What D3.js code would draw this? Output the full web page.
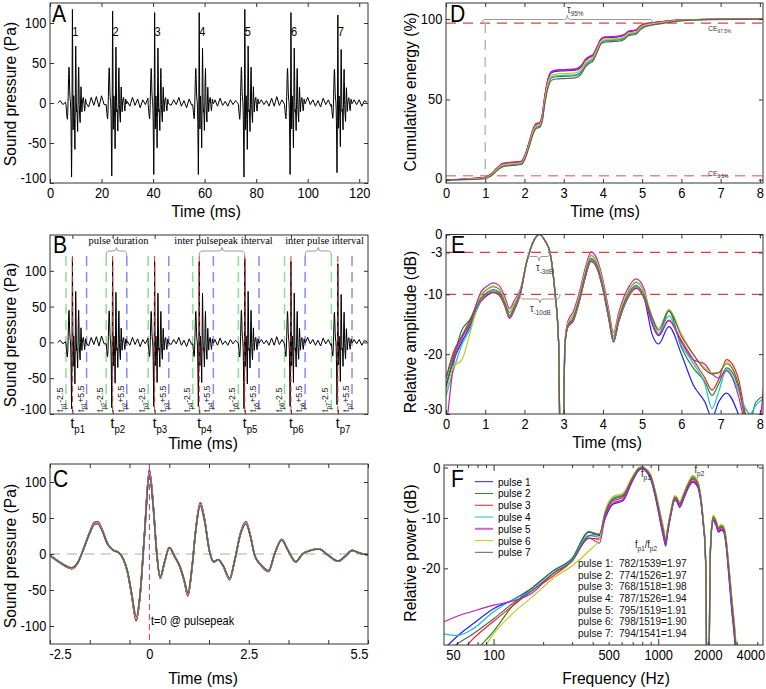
<!DOCTYPE html>
<html><head><meta charset="utf-8">
<script src="https://cdn.jsdelivr.net/npm/d3@7"></script>
<style>body{margin:0;background:#fff}svg{display:block}text{white-space:pre}</style>
</head><body><svg id="c" width="766" height="689"></svg>
<script>
// ---------------- DATA ----------------
const pulseLabels = ["pulse 1","pulse 2","pulse 3","pulse 4","pulse 5","pulse 6","pulse 7"];
const pulseColors = ["#2020ff","#228b22","#ee2020","#20c0c0","#c020c0","#c8c820","#606060"];
const peakTimes = [8.7, 24.3, 40.6, 57.9, 75.6, 93.5, 111.7];
const peakAmp = [117, 115, 113, 113, 117, 113, 110];
const peakLabels = ["1","2","3","4","5","6","7"];
// averaged pulse waveform (panel C), time rel. to pulse peak (ms) / pressure (Pa)
const waveT = [-2.5,-2.3,-2.1,-1.95,-1.8,-1.65,-1.5,-1.38,-1.3,-1.2,-1.05,-0.9,-0.77,-0.65,-0.55,-0.45,-0.33,-0.23,-0.12,0,0.1,0.18,0.27,0.38,0.5,0.64,0.77,0.88,0.97,1.07,1.17,1.28,1.38,1.52,1.62,1.73,1.85,2.02,2.15,2.3,2.43,2.53,2.65,2.8,3.0,3.15,3.33,3.48,3.68,3.85,4.05,4.27,4.5,4.75,4.93,5.1,5.3,5.5];
const waveP = [-2,-10,-17,-20,-12,8,30,43,44,35,14,5,2,-8,-25,-55,-91,-55,30,115,65,5,-33,-12,9,-4,-18,-38,-57,-20,35,70,50,2,-11,-8,-16,-35,-8,30,44,28,-2,-15,-24,0,20,6,-11,0,5,7,-2,-10,-3,5,1,-1];
// background noise between pulses (1 ms steps from t = 3 ms)
const noiseT0 = 3;
const noise = [0,3,-2,1,-4,2,-1,5,-3,2,-4,3,
 -5,7,-3,8,-5,9,-2,5,-6,4,
 -2,4,-5,6,-3,2,-4,7,-3,5,
 -6,4,-2,6,-4,2,-3,6,-2,4,
 -5,7,-3,4,-2,7,-4,3,-6,5,
 -3,2,-1,4,-4,3,-2,6,-5,4,
 -4,6,-3,2,-4,4,-2,3,-1,4,
 -4,5,-4,6,-3,4,-6,4,-2,3,
 -4,6,-4,8,-3,4,-5,2,-4,5,
 -3,6,-4,4,-6,7,-2,4,-4,3,
 -5,6,-2,4,-4,6,-3,2,-4,6,
 -4,5,-3,4,-2,4,-4,3,1];
// panel D: cumulative energy
const ceT = [0,0.5,0.9,1.0,1.15,1.3,1.45,1.7,1.92,2.02,2.12,2.22,2.3,2.38,2.45,2.52,2.6,2.68,2.8,3.0,3.3,3.45,3.55,3.65,3.75,3.85,3.95,4.05,4.4,4.55,4.65,4.75,4.85,4.95,5.05,5.2,5.5,5.8,6.2,6.7,8.08];
const ceMean = [0,0.3,0.9,1.2,3,6.5,9.2,10,10.5,14.5,22,30,33.5,34,38,50,60,64.5,65.5,65.8,66.2,68.5,72.5,74.5,76,81,86,87.3,87.8,89,91,91.5,92,94.5,96,96.8,97.8,98.8,99.5,99.8,100];
const ceSpread = [0,0.2,0.4,0.4,0.6,0.8,1,1,1,1.2,1.5,1.5,1.5,1.5,2,2.5,2.8,2.8,2.8,2.8,2.8,2.6,2.4,2.2,2,1.8,1.6,1.6,1.6,1.5,1.4,1.4,1.3,1.2,1,0.8,0.6,0.4,0.2,0.1,0];
const cePulseDev = [0.7,-0.5,1.0,-0.3,0.9,0.1,-1.0];
// panel E: relative amplitude envelope
const eHeadT = [0,0.2,0.4,0.6];
const eHead = [[-25.5,-21,-18,-15.5],[-25,-20.5,-16,-14.3],[-24,-19.5,-17,-14.5],[-27,-22.5,-18.5,-16],[-33,-21.5,-17.5,-15],[-26.5,-22,-21,-16.8],[-24,-20,-17,-15]];
const eMidT = [0.9,1.05,1.2,1.35,1.5,1.62,1.75,1.9,2.05,2.2,2.38,2.52,2.65,2.78,2.87,2.92,2.98,3.03,3.1,3.25,3.4,3.55,3.7,3.85,4.0,4.15,4.27,4.4,4.6,4.85,5.05];
const eMid = [-10.4,-9.5,-9.0,-9.4,-11.3,-13.3,-11.8,-9.5,-4.8,-1.6,0,-1.0,-3.0,-9.8,-18,-40,-40,-18.5,-15.2,-13.7,-10.5,-6.5,-3.8,-5.0,-8.5,-13.5,-17.3,-14,-10.4,-8.3,-10.0];
const eMidW = [1,1,1,1,1,1,1,0.5,0,0,0,0,0,0,0,0,0,0.3,0.6,1,1,1,1,1,1,1,1,1,1,1,1];
const eMidOff = [-0.6,0.3,-0.7,-0.4,0.9,0.4,-0.2];
const eTailT = [5.25,5.42,5.68,6.0,6.3,6.6,6.78,6.95,7.15,7.45,7.6,7.75,7.9,8.1];
const eTail = [
 [-16.6,-18.3,-15.4,-20,-25.1,-28,-30.6,-28,-26.5,-30,-33,-35,-35,-35],
 [-14.5,-16.8,-12.8,-18.9,-22.3,-24.6,-26.9,-25,-22.3,-25.5,-29.5,-31,-28,-27],
 [-14.8,-16.9,-14.3,-17.7,-20.9,-24,-26,-24.2,-20.9,-24,-29,-33,-35,-35],
 [-14.2,-16.5,-13.6,-18.5,-21.5,-25,-29.1,-26.3,-22.6,-26,-28.6,-30,-28.5,-27.4],
 [-14.9,-16.9,-14.4,-18,-20.9,-21.7,-23.3,-24,-22.8,-26.9,-31,-34,-35,-25],
 [-13.6,-15.7,-12.5,-16.6,-20,-22.3,-23.1,-23.1,-21.3,-25,-30,-34,-33,-30],
 [-13.8,-16.0,-12.7,-17,-20,-22.6,-23.3,-23.1,-21.6,-25,-30,-33,-35,-33]];
// panel F: spectra
const fLowF = [50,60,75,100,130,170,230,300,380,440];
const fLow = [
 [-36,-33.5,-31,-28,-26.3,-24,-20.5,-18,-12.8,-13.5],
 [-45,-41,-37,-32.5,-27.5,-24,-20.5,-18,-12.7,-13.3],
 [-40,-37.5,-34,-30.5,-27.5,-24.5,-21.5,-18.5,-14,-14.2],
 [-33,-33.3,-32,-28.6,-26.3,-24.5,-21,-18.3,-13.5,-13.8],
 [-30.6,-29.5,-28.5,-27.3,-26.5,-25,-21,-18.5,-14,-15],
 [-48,-44,-39.5,-33,-29,-25.8,-22,-19.5,-16.5,-14.2],
 [-37,-35,-33,-30,-27,-24.5,-21,-18.5,-13.5,-13.2]];
const fHighF = [475,530,610,690,760,800,850,900,975,1040,1080,1110,1140,1190,1260,1300,1350,1420,1520,1620,1720,1800,1880,1930,1955,1975,2030,2055,2090,2160,2240,2320,2420,2500,2580,2680,2800,2900,3000];
const fHighMean = [-9.4,-6.5,-5.8,-2.5,-0.3,0,-0.6,-1.8,-6.1,-10.5,-13,-14.8,-12.5,-9.2,-6,-6.3,-7.3,-5.8,-3.5,-2.2,-2.9,-5.4,-11,-16,-25,-45,-45,-25,-14,-10,-10.8,-12.2,-11.8,-12.2,-14.5,-20,-27,-32,-38];
const fHighSp = [0.8,0.8,0.8,0.5,0.3,0.2,0.3,0.5,0.7,1.0,1.0,0.8,0.6,0.5,0.5,0.5,0.6,0.6,0.6,0.7,0.7,0.6,0.5,0.5,0,0,0,0,0.5,0.6,0.6,0.6,0.6,0.6,0.8,1.2,1.5,1.5,1.5];
const fPulseDev = [-1,0.4,-0.2,0.6,-0.7,0.9,0.2];
const ratioLines = ["pulse 1:  782/1539=1.97","pulse 2:  774/1526=1.97","pulse 3:  768/1518=1.98","pulse 4:  787/1526=1.94","pulse 5:  795/1519=1.91","pulse 6:  798/1519=1.90","pulse 7:  794/1541=1.94"];
// ticks
const ticksTimeA = [0,20,40,60,80,100,120];
const ticksPa = [-100,-50,0,50,100];
const ticksC = [-2.5,-1.5,-0.5,0,0.5,1.5,2.5,3.5,4.5,5.5];
const labelsC = [-2.5,0,2.5,5.5];
const ticksMs = [0,1,2,3,4,5,6,7,8];
const ticksCE = [0,50,100];
const ticksDB_E = [0,-3,-10,-20,-30];
const ticksDB_F = [0,-10,-20];
const ticksHz = [60,70,80,90,100,200,300,400,500,600,700,800,900,1000,2000,3000,4000];
const labelsHz = [50,100,500,1000,2000,4000];
const majorHz = [100,1000];

// ---------------- DRAWING ----------------
const FONT = '"Liberation Sans", Arial, Helvetica, sans-serif';
const SERIF = '"Liberation Serif", "Times New Roman", serif';
const SX = 0.92;
const svg = d3.select('#c');
const defs = svg.append('defs');

function addText(x, y, parts, o = {}) {
  const size = o.size || 14, rot = o.rot || 0, sx = o.sx == null ? SX : o.sx;
  const t = svg.append('text')
    .attr('transform', `translate(${x},${y})` + (rot ? ` rotate(${rot})` : '') + ` scale(${sx},1)`)
    .attr('text-anchor', o.anchor || 'middle')
    .attr('xml:space', 'preserve')
    .style('font-size', size + 'px').style('font-family', o.family || FONT)
    .style('fill', o.fill || '#000');
  if (typeof parts === 'string') { t.text(parts); return t; }
  let inSub = false; const sh = size * 0.3;
  parts.forEach(p => {
    const isSub = p.sub === true;
    const ts = t.append('tspan').text(p.s);
    if (isSub && !inSub) ts.attr('dy', sh);
    if (!isSub && inSub) ts.attr('dy', -sh);
    ts.style('font-size', (isSub ? size * (o.subScale || 0.7) : size) + 'px');
    inSub = isSub;
  });
  return t;
}

function clipG(box, id) {
  defs.append('clipPath').attr('id', id).append('rect')
    .attr('x', box.x0).attr('y', box.y0).attr('width', box.x1 - box.x0).attr('height', box.y1 - box.y0);
  return svg.append('g').attr('clip-path', `url(#${id})`);
}

function drawAxes(box, xs, ys, o) {
  const mk = (axis, tr) => {
    const g = svg.append('g').attr('transform', tr).call(axis);
    g.select('.domain').remove();
    g.attr('font-size', 14).attr('font-family', FONT);
    g.selectAll('line').attr('stroke', '#333');
    g.selectAll('text').attr('fill', '#000').attr('transform', `scale(${SX},1)`);
    return g;
  };
  const xl = o.xl || o.xt;
  const gb = mk(d3.axisBottom(xs).tickValues(o.xt).tickSize(-4).tickPadding(5)
      .tickFormat(d => xl.includes(d) ? String(d) : ''), `translate(0,${box.y1})`);
  const gt = mk(d3.axisTop(xs).tickValues(o.xt).tickSize(-4).tickFormat(''), `translate(0,${box.y0})`);
  const gl = mk(d3.axisLeft(ys).tickValues(o.yt).tickSize(-4).tickPadding(4).tickFormat(d => String(d)), `translate(${box.x0},0)`);
  const gr = mk(d3.axisRight(ys).tickValues(o.yt).tickSize(-4).tickFormat(''), `translate(${box.x1},0)`);
  gl.selectAll('.tick text').attr('y', d => Math.min(0, box.y1 - 5 - ys(d)));
  if (o.xShift) gb.selectAll('.tick text').attr('x', d => (o.xShift[d] || 0) / SX);
  svg.append('rect').attr('x', box.x0).attr('y', box.y0).attr('width', box.x1 - box.x0)
    .attr('height', box.y1 - box.y0).attr('fill', 'none').attr('stroke', '#333').attr('stroke-width', 1);
  return { gb, gt, gl, gr };
}

function bracePath(x1, x2, yEnd, yBar, yTip) {
  const xm = (x1 + x2) / 2, r = Math.min(3, (x2 - x1) / 6);
  return `M${x1},${yEnd} Q${x1},${yBar} ${x1 + r},${yBar} L${xm - r},${yBar} Q${xm},${yBar} ${xm},${yTip} ` +
         `Q${xm},${yBar} ${xm + r},${yBar} L${x2 - r},${yBar} Q${x2},${yBar} ${x2},${yEnd}`;
}
function brace(x1, x2, yEnd, yBar, yTip) {
  svg.append('path').attr('d', bracePath(x1, x2, yEnd, yBar, yTip))
    .attr('fill', 'none').attr('stroke', '#999').attr('stroke-width', 1);
}

function buildSignal() {
  const pts = [];
  noise.forEach((v, i) => {
    const t = noiseT0 + i;
    if (peakTimes.some(tp => t >= tp - 2.5 && t <= tp + 5.5)) return;
    pts.push([t, v]);
  });
  peakTimes.forEach((tp, k) => waveT.forEach((w, j) => pts.push([tp + w, waveP[j] * peakAmp[k] / 115])));
  pts.sort((a, b) => a[0] - b[0]);
  return pts;
}
const signal = buildSignal();

const boxA = { x0: 50, x1: 368, y0: 3, y1: 183 };
const boxB = { x0: 50, x1: 368, y0: 235, y1: 414 };
const boxC = { x0: 50, x1: 368, y0: 464, y1: 644 };
const boxD = { x0: 446, x1: 763, y0: 3, y1: 183 };
const boxE = { x0: 446, x1: 763, y0: 234.5, y1: 414 };
const boxF = { x0: 444, x1: 763, y0: 465, y1: 645 };
const LAB = 17;

// ---- Panel A ----
{
  const xs = d3.scaleLinear([0, 123.4], [boxA.x0, boxA.x1]);
  const ys = d3.scaleLinear([-100, 125], [boxA.y1, boxA.y0]);
  const g = clipG(boxA, 'cA');
  g.append('path').datum(signal).attr('fill', 'none').attr('stroke', '#000').attr('stroke-width', 1)
    .attr('d', d3.line().x(d => xs(d[0])).y(d => ys(d[1])));
  drawAxes(boxA, xs, ys, { xt: ticksTimeA, yt: ticksPa });
  peakTimes.forEach((tp, k) => addText(xs(tp) + 3, 36, peakLabels[k], { size: 12 }));
  addText(52, 22, 'A', { size: 23, anchor: 'start' });
  addText(206, 217, 'Time (ms)', { size: LAB });
  addText(15.5, 94, 'Sound pressure (Pa)', { size: LAB, rot: -90 });
}

// ---- Panel B ----
{
  const xs = d3.scaleLinear([0, 123.4], [boxB.x0, boxB.x1]);
  const ys = d3.scaleLinear([-100, 150], [boxB.y1, boxB.y0]);
  const g = clipG(boxB, 'cB');
  const vline = (t, col, dash, w) => g.append('line').attr('x1', xs(t)).attr('x2', xs(t))
    .attr('y1', 256).attr('y2', boxB.y1).attr('stroke', col).attr('stroke-width', w).attr('stroke-dasharray', dash);
  peakTimes.forEach(tp => { vline(tp - 2.5, '#8ee08e', '10,6', 1.5); vline(tp + 5.5, '#8a8af2', '10,6', 1.5); });
  g.append('path').datum(signal).attr('fill', 'none').attr('stroke', '#000').attr('stroke-width', 1)
    .attr('d', d3.line().x(d => xs(d[0])).y(d => ys(d[1])));
  peakTimes.forEach(tp => vline(tp, '#e03030', '6,4', 1));
  drawAxes(boxB, xs, ys, { xt: peakTimes, xl: [], yt: ticksPa });
  peakTimes.forEach((tp, k) => {
    const n = String(k + 1);
    addText(xs(tp - 2.5) - 3, 412, [{ s: 't' }, { s: 'p' + n, sub: true }, { s: '-2.5' }], { size: 9.5, rot: -90, anchor: 'start', fill: '#222' });
    addText(xs(tp + 5.5) - 3, 412, [{ s: 't' }, { s: 'p' + n, sub: true }, { s: '+5.5' }], { size: 9.5, rot: -90, anchor: 'start', fill: '#222' });
    addText(xs(tp) - 2, 428, [{ s: 't' }, { s: 'p' + n, sub: true }], { size: 15, anchor: 'start', subScale: 0.7 });
  });
  // interval annotations
  const tp = peakTimes;
  addText(118.5, 244, 'pulse duration', { size: 10.5, family: SERIF, sx: 1 });
  brace(xs(tp[1] - 2.5), xs(tp[1] + 5.5), 256, 251, 247.5);
  addText(223.5, 244, 'inter pulsepeak interval', { size: 10.5, family: SERIF, sx: 1 });
  brace(xs(tp[3]), xs(tp[4]), 256, 251, 247.5);
  addText(324.5, 244, 'inter pulse interval', { size: 10.5, family: SERIF, sx: 1 });
  brace(xs(tp[5] + 5.5), xs(tp[6] - 2.5), 256, 251, 247.5);
  addText(53, 253, 'B', { size: 23, anchor: 'start' });
  addText(203, 449, 'Time (ms)', { size: LAB });
  addText(15.5, 335, 'Sound pressure (Pa)', { size: LAB, rot: -90 });
}

// ---- Panel C ----
{
  const xs = d3.scaleLinear([-2.5, 5.5], [boxC.x0, boxC.x1]);
  const ys = d3.scaleLinear([-125, 125], [boxC.y1, boxC.y0]);
  const g = clipG(boxC, 'cC');
  g.append('line').attr('x1', boxC.x0).attr('x2', boxC.x1).attr('y1', ys(0)).attr('y2', ys(0))
    .attr('stroke', '#c8c8c8').attr('stroke-width', 1.5).attr('stroke-dasharray', '10,7');
  const line = d3.line().x(d => xs(d[0])).y(d => ys(d[1])).curve(d3.curveMonotoneX);
  peakAmp.forEach((a, k) => {
    const pts = waveT.map((t, j) => [t, waveP[j] * a / 115]);
    g.append('path').datum(pts).attr('fill', 'none').attr('stroke', pulseColors[k]).attr('stroke-width', 1.5).attr('d', line);
  });
  g.append('line').attr('x1', xs(0)).attr('x2', xs(0)).attr('y1', boxC.y0).attr('y2', boxC.y1)
    .attr('stroke', '#c03090').attr('stroke-width', 1).attr('stroke-dasharray', '6,4');
  const ax = drawAxes(boxC, xs, ys, { xt: ticksC, xl: labelsC, yt: ticksPa, xShift: { '-2.5': 10, '5.5': -9 } });
  ax.gb.selectAll('.tick line').filter(d => d === 0).remove();
  ax.gt.selectAll('.tick line').filter(d => d === 0).remove();
  addText(151, 625, 't=0 @ pulsepeak', { size: 12, anchor: 'start' });
  addText(53, 487, 'C', { size: 23, anchor: 'start' });
  addText(203, 684, 'Time (ms)', { size: LAB });
  addText(15.5, 556, 'Sound pressure (Pa)', { size: LAB, rot: -90 });
}

// ---- Panel D ----
{
  const xs = d3.scaleLinear([0, 8.08], [boxD.x0, boxD.x1]);
  const ys = d3.scaleLinear([-2, 110], [boxD.y1, boxD.y0]);
  const g = clipG(boxD, 'cD');
  const hl = (v, col) => g.append('line').attr('x1', boxD.x0).attr('x2', boxD.x1).attr('y1', ys(v)).attr('y2', ys(v))
    .attr('stroke', col).attr('stroke-width', 1.3).attr('stroke-dasharray', '10,7');
  hl(97.5, '#dd4444'); hl(2.5, '#ee8888');
  g.append('line').attr('x1', xs(1)).attr('x2', xs(1)).attr('y1', ys(97.5)).attr('y2', ys(0))
    .attr('stroke', '#b8b8b8').attr('stroke-width', 1.5).attr('stroke-dasharray', '10,7');
  const line = d3.line().x(d => xs(d[0])).y(d => ys(d[1])).curve(d3.curveMonotoneX);
  cePulseDev.forEach((dv, k) => {
    const pts = ceT.map((t, i) => [t, ceMean[i] + dv * ceSpread[i]]);
    g.append('path').datum(pts).attr('fill', 'none').attr('stroke', pulseColors[k]).attr('stroke-width', 1.2).attr('d', line);
  });
  drawAxes(boxD, xs, ys, { xt: ticksMs, yt: ticksCE });
  svg.append('path').attr('d', bracePath(xs(0.92), xs(5.27), 23, 19.5, 15.5))
    .attr('fill', 'none').attr('stroke', '#999').attr('stroke-width', 1);
  addText(567, 13, [{ s: 'τ' }, { s: '95%', sub: true }], { size: 10, anchor: 'start', fill: '#333' });
  addText(708, 31, [{ s: 'CE' }, { s: '97.5%', sub: true }], { size: 7.5, anchor: 'start', fill: '#333' });
  addText(708, 176, [{ s: 'CE' }, { s: '2.5%', sub: true }], { size: 7.5, anchor: 'start', fill: '#333' });
  addText(450, 22, 'D', { size: 23, anchor: 'start' });
  addText(605, 217, 'Time (ms)', { size: LAB });
  addText(416, 92, 'Cumulative energy (%)', { size: LAB, rot: -90 });
}

// ---- Panel E ----
{
  const xs = d3.scaleLinear([0, 8.08], [boxE.x0, boxE.x1]);
  const ys = d3.scaleLinear([-30, 0], [boxE.y1, boxE.y0]);
  const g = clipG(boxE, 'cE');
  [-3, -10].forEach(v => g.append('line').attr('x1', boxE.x0).attr('x2', boxE.x1).attr('y1', ys(v)).attr('y2', ys(v))
    .attr('stroke', '#d84040').attr('stroke-width', 1.2).attr('stroke-dasharray', '10,7'));
  const line = d3.line().x(d => xs(d[0])).y(d => ys(d[1])).curve(d3.curveMonotoneX);
  eHead.forEach((h, k) => {
    const pts = [];
    eHeadT.forEach((t, i) => pts.push([t, h[i]]));
    eMidT.forEach((t, i) => pts.push([t, eMid[i] + eMidOff[k] * eMidW[i]]));
    eTailT.forEach((t, i) => pts.push([t, eTail[k][i]]));
    g.append('path').datum(pts).attr('fill', 'none').attr('stroke', pulseColors[k]).attr('stroke-width', 1.2).attr('d', line);
  });
  drawAxes(boxE, xs, ys, { xt: ticksMs, yt: ticksDB_E });
  brace(528, 550, 252, 256.5, 261);
  brace(520, 560, 294, 299, 303);
  addText(536, 271, [{ s: 'τ' }, { s: '-3dB', sub: true }], { size: 10, anchor: 'start', fill: '#333' });
  addText(530, 312, [{ s: 'τ' }, { s: '-10dB', sub: true }], { size: 10, anchor: 'start', fill: '#333' });
  addText(451, 253, 'E', { size: 23, anchor: 'start' });
  addText(607, 448, 'Time (ms)', { size: LAB });
  addText(416, 332, 'Relative amplitude (dB)', { size: LAB, rot: -90 });
}

// ---- Panel F ----
{
  const xs = d3.scaleLog([50, 4330], [boxF.x0, boxF.x1]);
  const ys = d3.scaleLinear([-35.2, 0.5], [boxF.y1, boxF.y0]);
  const g = clipG(boxF, 'cF');
  const line = d3.line().x(d => xs(d[0])).y(d => ys(d[1])).curve(d3.curveMonotoneX);
  fLow.forEach((lo, k) => {
    const pts = fLowF.map((f, i) => [f, lo[i]]).concat(fHighF.map((f, i) => [f, fHighMean[i] + fPulseDev[k] * fHighSp[i]]));
    g.append('path').datum(pts).attr('fill', 'none').attr('stroke', pulseColors[k]).attr('stroke-width', 1.2).attr('d', line);
  });
  const ax = drawAxes(boxF, xs, ys, { xt: [50].concat(ticksHz), xl: labelsHz, yt: ticksDB_F, xShift: { '50': 9, '4000': -7 } });
  ax.gb.selectAll('.tick line').attr('y2', d => majorHz.includes(d) ? -6 : (d === 50 ? 0 : -3));
  ax.gt.selectAll('.tick line').attr('y2', d => majorHz.includes(d) ? 6 : (d === 50 ? 0 : 3));
  // legend
  pulseLabels.forEach((lab, k) => {
    const y = 481.7 + k * 11.77;
    svg.append('line').attr('x1', 475).attr('x2', 493).attr('y1', y).attr('y2', y)
      .attr('stroke', pulseColors[k]).attr('stroke-width', k === 4 ? 2 : 1).attr('opacity', k === 4 ? 0.7 : 1);
    addText(498, y + 4, lab, { size: 11, anchor: 'start' });
  });
  addText(641, 477, [{ s: 'f' }, { s: 'p1', sub: true }], { size: 10, anchor: 'start', fill: '#222' });
  addText(694.5, 473, [{ s: 'f' }, { s: 'p2', sub: true }], { size: 10, anchor: 'start', fill: '#222' });
  addText(635, 548, [{ s: 'f' }, { s: 'p1', sub: true }, { s: '/f' }, { s: 'p2', sub: true }], { size: 10, anchor: 'start', fill: '#222' });
  ratioLines.forEach((s, k) => addText(578, 567 + k * 11.67, s, { size: 11, anchor: 'start', fill: '#111' }));
  addText(451, 487, 'F', { size: 23, anchor: 'start' });
  addText(616, 684, 'Frequency (Hz)', { size: LAB });
  addText(416, 553, 'Relative power (dB)', { size: LAB, rot: -90 });
}
</script></body></html>
